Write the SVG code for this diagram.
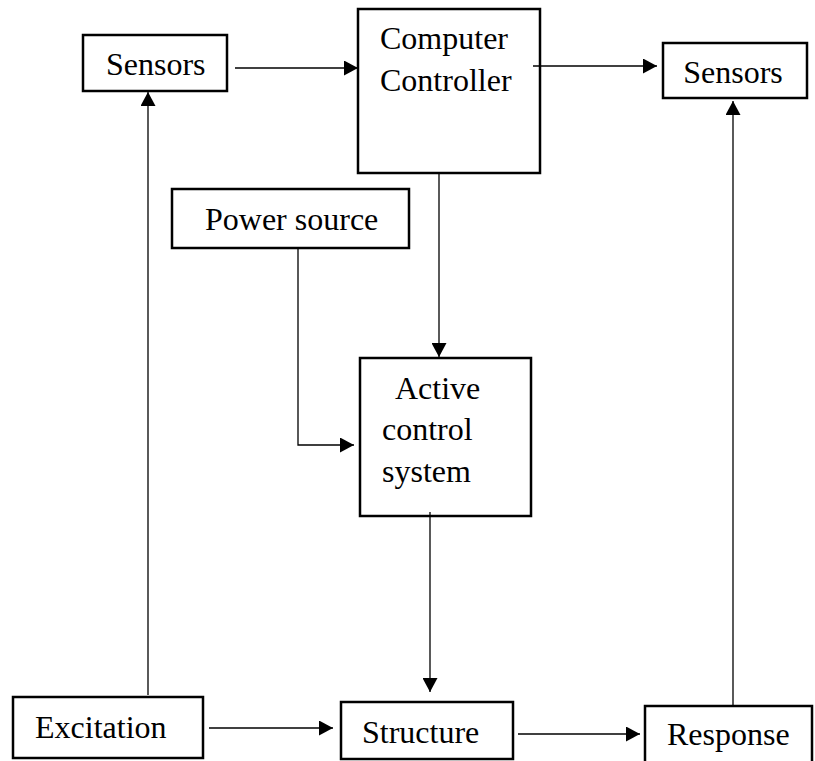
<svg xmlns="http://www.w3.org/2000/svg" width="815" height="761" viewBox="0 0 815 761">
<style>
.box{fill:#fff;stroke:#000;stroke-width:2.5}
.lbl{font-family:"Liberation Serif","Times New Roman",serif;font-size:32px;fill:#000}
.con{fill:none;stroke:#000;stroke-width:1.3}
</style>
<defs>
<marker id="ah" markerUnits="userSpaceOnUse" markerWidth="15" markerHeight="15" refX="14" refY="7.5" orient="auto">
<path d="M0,0 L14,7.5 L0,15 z" fill="#000"/>
</marker>
</defs>
<rect width="815" height="761" fill="#fff"/>
<g id="sensors-left"><rect class="box" x="83" y="35" width="144" height="56"/><text class="lbl" x="106" y="75">Sensors</text></g>
<g id="computer-controller"><rect class="box" x="358" y="9" width="182" height="164"/><text class="lbl" x="380" y="49">Computer</text><text class="lbl" x="380" y="91">Controller</text></g>
<g id="sensors-right"><rect class="box" x="663" y="43" width="144" height="55"/><text class="lbl" x="733" y="83" text-anchor="middle">Sensors</text></g>
<g id="power-source"><rect class="box" x="172" y="189" width="237" height="59"/><text class="lbl" x="205" y="230">Power source</text></g>
<g id="active-control"><rect class="box" x="360" y="358" width="171" height="158"/><text class="lbl" x="395" y="399">Active</text><text class="lbl" x="382" y="440">control</text><text class="lbl" x="382" y="482">system</text></g>
<g id="excitation"><rect class="box" x="13" y="697" width="190" height="61"/><text class="lbl" x="35" y="738">Excitation</text></g>
<g id="structure"><rect class="box" x="341" y="702" width="172" height="57"/><text class="lbl" x="362" y="743">Structure</text></g>
<g id="response"><rect class="box" x="645" y="706" width="167" height="60"/><text class="lbl" x="667" y="745">Response</text></g>
<g id="connectors">
<line class="con" x1="235" y1="68" x2="358" y2="68" marker-end="url(#ah)"/>
<line class="con" x1="533" y1="66" x2="657" y2="66" marker-end="url(#ah)"/>
<line class="con" x1="439" y1="174" x2="439" y2="357" marker-end="url(#ah)"/>
<polyline class="con" points="298,248 298,445 354,445" marker-end="url(#ah)"/>
<line class="con" x1="430" y1="512" x2="430" y2="692" marker-end="url(#ah)"/>
<line class="con" x1="209" y1="728" x2="333" y2="728" marker-end="url(#ah)"/>
<line class="con" x1="518" y1="734" x2="640" y2="734" marker-end="url(#ah)"/>
<line class="con" x1="148" y1="695" x2="148" y2="92" marker-end="url(#ah)"/>
<line class="con" x1="733" y1="705" x2="733" y2="101" marker-end="url(#ah)"/>
</g>
</svg>
